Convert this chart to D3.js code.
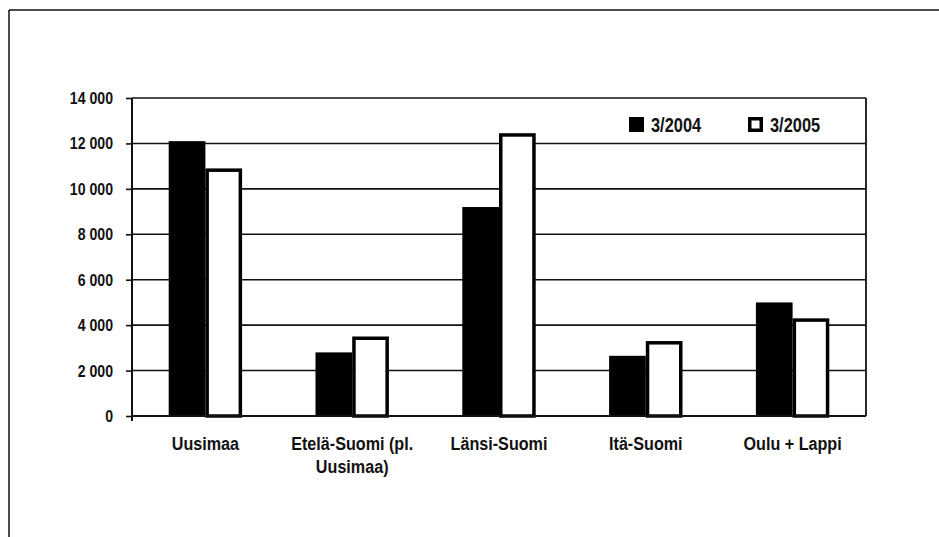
<!DOCTYPE html>
<html><head><meta charset="utf-8">
<script src="https://cdn.jsdelivr.net/npm/d3@7"></script>
<style>
html,body{margin:0;padding:0;background:#fff;}
text{font-family:"Liberation Sans",Arial,sans-serif;font-weight:bold;fill:#111;}
</style></head>
<body>
<svg id="c" width="939" height="537"></svg>
<script>
const categories = [["Uusimaa"], ["Etelä-Suomi (pl.", "Uusimaa)"], ["Länsi-Suomi"], ["Itä-Suomi"], ["Oulu + Lappi"]];
const seriesNames = ["3/2004", "3/2005"];
const values2004 = [12100, 2800, 9200, 2650, 5000];
const values2005 = [10900, 3500, 12450, 3300, 4300];
const yTicks = [0, 2000, 4000, 6000, 8000, 10000, 12000, 14000];

const svg = d3.select("#c");
const L = 132, R = 866, T = 98, B = 416;
const SX = 0.83; // horizontal condensing of the text

// outer frame (left + top only, like the scan)
svg.append("line").attr("x1", 9).attr("x2", 939).attr("y1", 10).attr("y2", 10).attr("stroke", "#111").attr("stroke-width", 1.5);
svg.append("line").attr("x1", 9).attr("x2", 9).attr("y1", 10).attr("y2", 537).attr("stroke", "#111").attr("stroke-width", 1.5);

const keys = categories.map((c, i) => i);
const x = d3.scaleBand().domain(keys).range([L, R]).padding(0);
const y = d3.scaleLinear().domain([0, 14000]).range([B, T]);
const bw = x.bandwidth() * 0.25;

// gridlines
svg.append("g").selectAll("line").data(yTicks).join("line")
  .attr("x1", L).attr("x2", R)
  .attr("y1", d => y(d)).attr("y2", d => y(d))
  .attr("stroke", "#111").attr("stroke-width", 1.6);

// right border
svg.append("line").attr("x1", R).attr("x2", R).attr("y1", T).attr("y2", B).attr("stroke", "#111").attr("stroke-width", 1.8);

// y axis
const yAxis = d3.axisLeft(y).tickValues(yTicks).tickSize(6).tickPadding(9)
  .tickFormat(d => d3.format(",")(d).replace(/,/g, " "));
const ga = svg.append("g").attr("transform", `translate(${L},0)`).call(yAxis);
ga.select(".domain").remove();
ga.selectAll(".tick line").attr("stroke", "#111").attr("stroke-width", 1.6);
ga.selectAll(".tick text").style("font-size", "17px").attr("fill", "#111")
  .attr("x", 0).attr("transform", `translate(-19,0) scale(${SX},1)`);
svg.append("line").attr("x1", L).attr("x2", L).attr("y1", T).attr("y2", B + 5).attr("stroke", "#111").attr("stroke-width", 2);

// bars 2004 (black)
svg.append("g").selectAll("rect").data(values2004).join("rect")
  .attr("x", (d, i) => x(i) + x.bandwidth() / 2 - bw)
  .attr("y", d => y(d))
  .attr("width", bw)
  .attr("height", d => B - y(d))
  .attr("fill", "#000");

// bars 2005 (white, thick black outline)
const sw = 3.5;
svg.append("g").selectAll("rect").data(values2005).join("rect")
  .attr("x", (d, i) => x(i) + x.bandwidth() / 2 + sw / 2)
  .attr("y", d => y(d) + sw / 2)
  .attr("width", bw - sw)
  .attr("height", d => B - y(d) - sw / 2)
  .attr("fill", "#fff")
  .attr("stroke", "#000")
  .attr("stroke-width", sw);

// bottom axis line
svg.append("line").attr("x1", L).attr("x2", R).attr("y1", B).attr("y2", B).attr("stroke", "#111").attr("stroke-width", 1.8);

// category labels
const cl = svg.append("g").selectAll("text").data(categories).join("text")
  .attr("transform", (d, i) => `translate(${x(i) + x.bandwidth() / 2},450) scale(0.85,1)`)
  .attr("text-anchor", "middle")
  .style("font-size", "19px");
cl.selectAll("tspan").data(d => d).join("tspan")
  .attr("x", 0)
  .attr("dy", (d, j) => j === 0 ? 0 : 23)
  .text(d => d);

// legend
const lg = svg.append("g");
const legX = [629, 748];
lg.append("rect").attr("x", legX[0]).attr("y", 117).attr("width", 15).attr("height", 15).attr("fill", "#000");
lg.append("rect").attr("x", legX[1] + 1.75).attr("y", 118.75).attr("width", 11.5).attr("height", 11.5)
  .attr("fill", "#fff").attr("stroke", "#000").attr("stroke-width", 3.5);
seriesNames.forEach((s, i) => {
  lg.append("text").attr("transform", `translate(${legX[i] + 22},131.5) scale(0.82,1)`)
    .style("font-size", "20px").text(s);
});
</script>
</body></html>
